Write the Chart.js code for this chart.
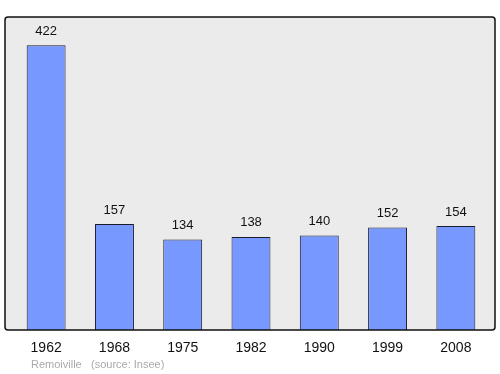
<!DOCTYPE html>
<html lang="fr">
<head>
<meta charset="UTF-8">
<title>Remoiville - population</title>
<script src="https://cdn.jsdelivr.net/npm/chart.js"></script>
<style>
    body { margin: 0; background: #fff; }
    #wrap { position: relative; width: 500px; height: 374px; }
</style>
</head>
<body>
<div id="wrap"><canvas id="popChart"></canvas></div>
<script>
    const years = ['1962', '1968', '1975', '1982', '1990', '1999', '2008'];
    const population = [422, 157, 134, 138, 140, 152, 154];
    const commune = 'Remoiville';
    const source = '(source: Insee)';

    // fond gris + cadre, étiquettes des valeurs, pied de page
    const decor = {
        id: 'decor',
        beforeDraw(chart) {
            const c = chart.ctx;
            c.save();
            c.beginPath();
            c.roundRect(5, 17, 490, 313, 3);
            c.fillStyle = '#ebebeb';
            c.fill();
            c.restore();
        },
        afterDatasetsDraw(chart) {
            const c = chart.ctx;
            c.save();
            c.beginPath();
            c.roundRect(5, 17, 490, 313, 3);
            c.lineWidth = 1.5;
            c.strokeStyle = '#111';
            c.stroke();

            c.font = '13px "Liberation Sans", Arial, sans-serif';
            c.fillStyle = '#111';
            c.textAlign = 'center';
            c.textBaseline = 'middle';
            chart.getDatasetMeta(0).data.forEach((bar, i) => {
                c.fillText(population[i], bar.x, bar.y - 14);
            });

            c.font = '11px "Liberation Sans", Arial, sans-serif';
            c.fillStyle = '#aaaaaa';
            c.textAlign = 'left';
            c.fillText(commune, 31, 365);
            c.fillText(source, 91, 365);
            c.restore();
        }
    };

    const ctx = document.getElementById('popChart').getContext('2d');
    new Chart(ctx, {
        type: 'bar',
        data: {
            labels: years,
            datasets: [{
                data: population,
                backgroundColor: '#7799ff',
                borderColor: '#1a1a2a',
                borderWidth: 1,
                barPercentage: 0.57,
                categoryPercentage: 1
            }]
        },
        options: {
            responsive: true,
            maintainAspectRatio: false,
            animation: false,
            layout: { padding: { left: 12, right: 10, top: 17, bottom: 0 } },
            plugins: { legend: { display: false }, tooltip: { enabled: false } },
            scales: {
                x: {
                    grid: { display: false },
                    border: { display: false },
                    ticks: {
                        color: '#111',
                        font: { size: 14, family: '"Liberation Sans", Arial, sans-serif' },
                        padding: 2
                    },
                    afterFit(scale) { scale.height = 44; }
                },
                y: {
                    display: false,
                    min: 0,
                    max: 464
                }
            }
        },
        plugins: [decor]
    });
</script>
</body>
</html>
